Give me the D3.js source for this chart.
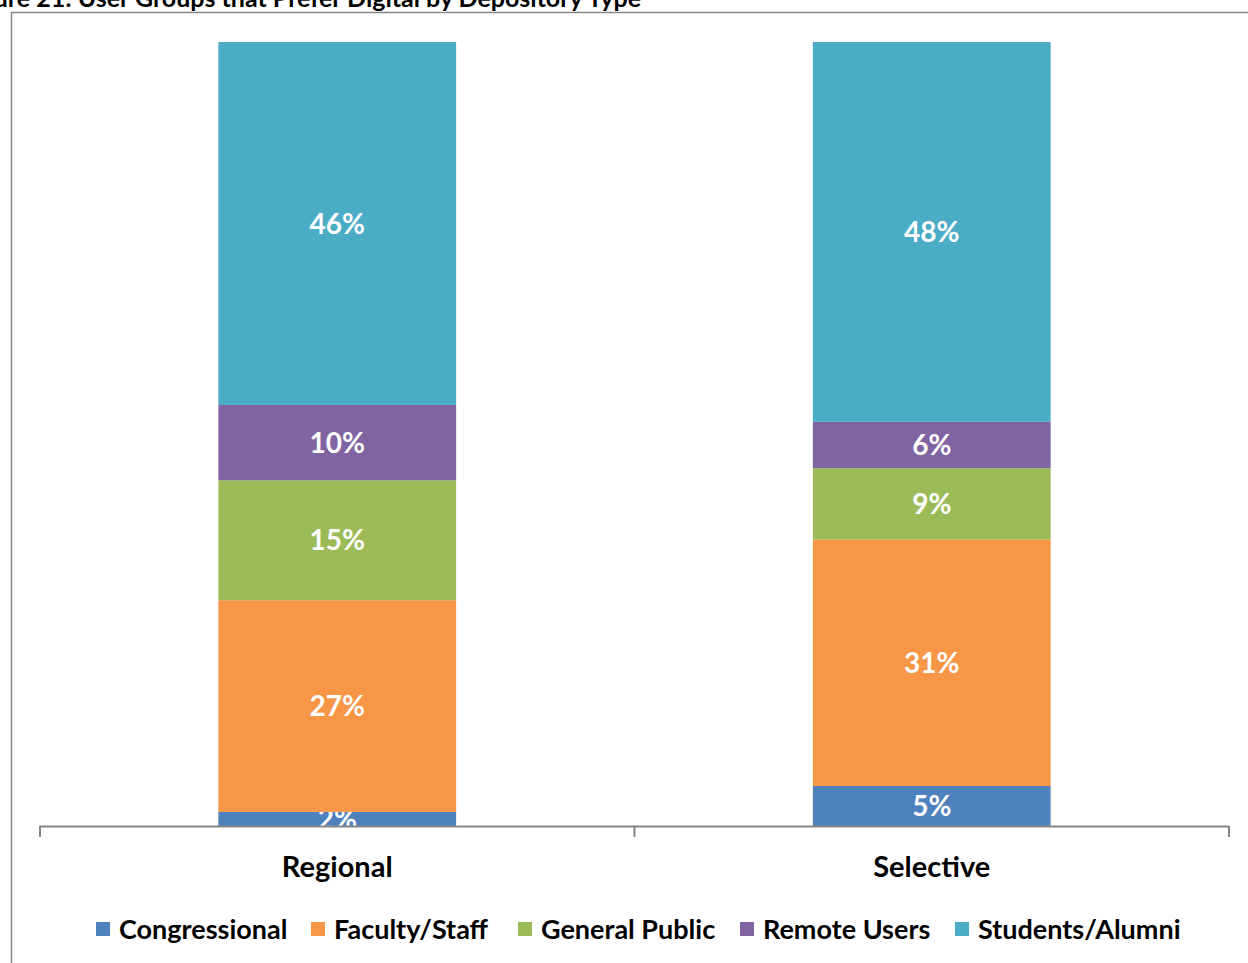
<!DOCTYPE html>
<html>
<head>
<meta charset="utf-8">
<script src="https://cdn.jsdelivr.net/npm/d3@7"></script>
<style>
  body { margin: 0; background: #fff; }
  svg { display: block; font-family: Lato, "Open Sans", sans-serif; }
</style>
</head>
<body>
<svg id="chart"></svg>
<script>
const width = 1248;
const height = 963;

// data (percent of each depository type)
const types = ['Regional', 'Selective'];
const groups = ['Congressional', 'Faculty/Staff', 'General Public', 'Remote Users', 'Students/Alumni'];
const congressional = [1.8, 5.1];
const facultyStaff = [27.0, 31.4];
const generalPublic = [15.3, 9.1];
const remoteUsers = [9.6, 5.9];
const studentsAlumni = [46.3, 48.4];
const colors = ['#4F81BD', '#F79646', '#9BBB59', '#8064A2', '#4BACC6'];

const rows = types.map((t, i) => ({
  type: t,
  'Congressional': congressional[i],
  'Faculty/Staff': facultyStaff[i],
  'General Public': generalPublic[i],
  'Remote Users': remoteUsers[i],
  'Students/Alumni': studentsAlumni[i]
}));

const svg = d3.select('#chart').attr('width', width).attr('height', height);

// title, cut off by the page edge like the source image
svg.append('text')
  .attr('x', -40).attr('y', 7)
  .attr('font-size', 25).attr('font-weight', 'bold')
  .attr('fill', '#000')
  .text('Figure 21: User Groups that Prefer Digital by Depository Type');

// chart frame
svg.append('rect')
  .attr('x', 11.5).attr('y', 12.5)
  .attr('width', 1260).attr('height', 1000)
  .attr('fill', 'none').attr('stroke', '#868686').attr('stroke-width', 1.5);

const x = d3.scaleBand().domain(types).range([40, 1229]).paddingInner(0.6).paddingOuter(0.3);
const y = d3.scaleLinear().domain([0, 1]).range([826, 42]);
const color = d3.scaleOrdinal().domain(groups).range(colors);

const stack = d3.stack().keys(groups).offset(d3.stackOffsetExpand);
const series = stack(rows);

const layer = svg.append('g').selectAll('g').data(series).enter().append('g')
  .attr('fill', d => color(d.key));

layer.selectAll('rect').data(d => d).enter().append('rect')
  .attr('x', d => x(d.data.type))
  .attr('width', x.bandwidth())
  .attr('y', d => y(d[1]))
  .attr('height', d => y(d[0]) - y(d[1]));

layer.selectAll('text').data(d => d.map(v => Object.assign(v, {key: d.key}))).enter().append('text')
  .attr('x', d => x(d.data.type) + x.bandwidth() / 2)
  .attr('y', d => (y(d[0]) + y(d[1])) / 2)
  .attr('dy', '0.36em')
  .attr('text-anchor', 'middle')
  .attr('fill', '#fff')
  .attr('font-size', 28).attr('font-weight', 'bold')
  .text(d => Math.round(d.data[d.key]) + '%');

// category axis
const xAxis = svg.append('g').attr('transform', 'translate(0,826)')
  .call(d3.axisBottom(x).tickSize(0).tickPadding(30));
xAxis.select('.domain').remove();
xAxis.selectAll('text').attr('font-size', 29).attr('font-weight', 'bold').attr('fill', '#000')
  .attr('font-family', 'Lato, sans-serif');

svg.append('line').attr('x1', 40).attr('x2', 1229).attr('y1', 826.5).attr('y2', 826.5)
  .attr('stroke', '#868686').attr('stroke-width', 2);
const bounds = [40, (40 + 1229) / 2, 1229];
svg.selectAll('.tick-mark').data(bounds).enter().append('line')
  .attr('x1', d => d).attr('x2', d => d).attr('y1', 826).attr('y2', 837)
  .attr('stroke', '#868686').attr('stroke-width', 2);

// legend
const legendX = [96, 311, 518, 740, 955];
const legend = svg.append('g').selectAll('g').data(groups).enter().append('g')
  .attr('transform', (d, i) => `translate(${legendX[i]},922)`);
legend.append('rect').attr('width', 14).attr('height', 14).attr('fill', d => color(d));
legend.append('text').attr('x', 23).attr('y', 7).attr('dy', '0.36em')
  .attr('font-size', 27).attr('font-weight', 'bold').attr('fill', '#000')
  .text(d => d);
</script>
</body>
</html>
